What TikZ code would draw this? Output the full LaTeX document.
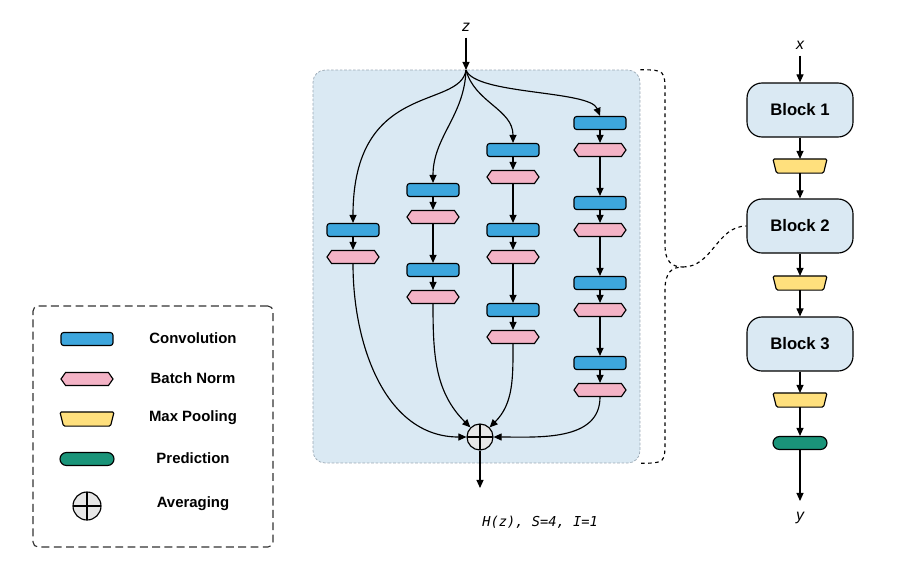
\documentclass[tikz,border=0pt]{standalone}
\usepackage{fontspec}
\setmainfont{Liberation Sans}
\setmonofont{DejaVu Sans Mono}
\usetikzlibrary{shapes.geometric, shapes.misc, shapes.symbols, arrows.meta, positioning}
\definecolor{convblue}{HTML}{3DA6DD}
\definecolor{normpink}{HTML}{F4B3C6}
\definecolor{poolyellow}{HTML}{FFE07D}
\definecolor{predgreen}{HTML}{1A9479}
\definecolor{cellblue}{HTML}{DAE9F3}
\definecolor{avggray}{HTML}{E6E6E6}
\definecolor{edgegray}{HTML}{9AA8B4}
\definecolor{legendgray}{HTML}{333333}

\begin{document}
\begin{tikzpicture}[x=0.02cm, y=-0.02cm, line width=0.65pt,
  flow/.style={-{Triangle[length=4.6pt,width=4pt]}},
  conv/.style={draw, fill=convblue, rounded corners=1.5pt, minimum width=1.04cm, minimum height=0.26cm, inner sep=0pt},
  bnorm/.style={draw, fill=normpink, signal, signal to=west and east, signal pointer angle=110, minimum width=1.04cm, minimum height=0.26cm, inner sep=0pt},
  pool/.style={minimum width=1.06cm, minimum height=0.26cm, inner sep=0pt,
    append after command={\pgfextra{\let\poolnode\tikzlastnode
      \draw[fill=poolyellow, rounded corners=0.8pt] (\poolnode.north west) -- (\poolnode.north east)
        -- ([xshift=-0.07cm]\poolnode.south east) -- ([xshift=0.07cm]\poolnode.south west) -- cycle;}}},
  pred/.style={draw, fill=predgreen, rounded rectangle, minimum width=1.08cm, minimum height=0.26cm, inner sep=0pt},
  avg/.style={draw, fill=avggray, circle, minimum size=#1, inner sep=0pt,
    path picture={\draw (path picture bounding box.north) -- (path picture bounding box.south)
      (path picture bounding box.west) -- (path picture bounding box.east);}},
  block/.style={draw, fill=cellblue, rounded corners=0.3cm, minimum width=2.12cm, minimum height=1.08cm, font=\bfseries\fontsize{9.5}{11}\selectfont},
  legendtext/.style={font=\bfseries\fontsize{8.5}{10}\selectfont},
  varlabel/.style={font=\itshape\fontsize{9}{10}\selectfont},
  brace/.style={dash pattern=on 2pt off 2pt}]

  % Canvas
  \useasboundingbox (0,0) rectangle (915,572);

  % Cell background
  \node[draw=edgegray, line width=0.4pt, dash pattern=on 1.5pt off 1pt, fill=cellblue, rounded corners=0.24cm,
    minimum width=6.54cm, minimum height=7.86cm] (hz) at (476.5,266.5) {};

  % Input and split point
  \node[varlabel] (z) at (466,27) {z};
  \coordinate (split) at (466,70);
  \draw[flow] (z) -- (split);

  % Path 1
  \node[conv] (c11) at (353,230) {};
  \node[bnorm] (b11) at (353,257) {};

  % Path 2
  \node[conv] (c21) at (433,190) {};
  \node[bnorm] (b21) at (433,217) {};
  \node[conv] (c22) at (433,270) {};
  \node[bnorm] (b22) at (433,297) {};

  % Path 3
  \node[conv] (c31) at (513,150) {};
  \node[bnorm] (b31) at (513,177) {};
  \node[conv] (c32) at (513,230) {};
  \node[bnorm] (b32) at (513,257) {};
  \node[conv] (c33) at (513,310) {};
  \node[bnorm] (b33) at (513,337) {};

  % Path 4
  \node[conv] (c41) at (600,123) {};
  \node[bnorm] (b41) at (600,150) {};
  \node[conv] (c42) at (600,203) {};
  \node[bnorm] (b42) at (600,230) {};
  \node[conv] (c43) at (600,283) {};
  \node[bnorm] (b43) at (600,310) {};
  \node[conv] (c44) at (600,363) {};
  \node[bnorm] (b44) at (600,390) {};

  % Averaging
  \node[avg=0.52cm] (sum) at (480,437) {};
  \coordinate (hout) at (480,488);

  % Split to paths
  \draw[flow] (split) .. controls (460,110) and (353,80) .. (c11.north);
  \draw[flow] (split) to[out=-92, in=90] (c21.north);
  \draw[flow] (split) to[out=-75, in=90] (c31.north);
  \draw[flow] (split) .. controls (475,95) and (590,90) .. (c41.north);

  % Inside paths
  \draw[flow] (c11) -- (b11);
  \draw[flow] (c21) -- (b21);
  \draw[flow] (b21) -- (c22);
  \draw[flow] (c22) -- (b22);
  \draw[flow] (c31) -- (b31);
  \draw[flow] (b31) -- (c32);
  \draw[flow] (c32) -- (b32);
  \draw[flow] (b32) -- (c33);
  \draw[flow] (c33) -- (b33);
  \draw[flow] (c41) -- (b41);
  \draw[flow] (b41) -- (c42);
  \draw[flow] (c42) -- (b42);
  \draw[flow] (b42) -- (c43);
  \draw[flow] (c43) -- (b43);
  \draw[flow] (b43) -- (c44);
  \draw[flow] (c44) -- (b44);

  % Paths to averaging
  \draw[flow] (b11.south) to[out=-90, in=180] (sum.west);
  \draw[flow] (b22.south) to[out=-90, in=135] (sum.north west);
  \draw[flow] (b33.south) to[out=-90, in=45] (sum.north east);
  \draw[flow] (b44.south) to[out=-90, in=0] (sum.east);
  \draw[flow] (sum) -- (hout);

  \node[font=\ttfamily\itshape\fontsize{7.8}{9}\selectfont] (cap) at (540,522) {H(z), S=4, I=1};

  % Network
  \node[varlabel] (x) at (800,45) {x};
  \node[block] (blk1) at (800,110) {Block 1};
  \node[pool] (p1) at (800,166) {};
  \node[block] (blk2) at (800,226) {Block 2};
  \node[pool] (p2) at (800,283) {};
  \node[block] (blk3) at (800,344) {Block 3};
  \node[pool] (p3) at (800,400) {};
  \node[pred] (pr) at (800,443) {};
  \coordinate (yout) at (800,501);
  \node[varlabel] (y) at (800,518) {y};

  \draw[flow] (x) -- (blk1);
  \draw[flow] (blk1) -- (p1);
  \draw[flow] (p1) -- (blk2);
  \draw[flow] (blk2) -- (p2);
  \draw[flow] (p2) -- (blk3);
  \draw[flow] (blk3) -- (p3);
  \draw[flow] (p3) -- (pr);
  \draw[flow] (pr) -- (yout);

  % Brace from cell to Block 2
  \draw[brace] (hz.north east) .. controls (665,70) .. (665,95) -- (665,245)
    .. controls (665,262) and (672,267) .. (683,267) coordinate (tip)
    .. controls (672,267) and (665,272) .. (665,290) -- (665,440)
    .. controls (665,463) .. (hz.south east);
  \draw[brace] (tip) to[out=0, in=180] (blk2.west);

  % Legend
  \node[draw=legendgray, dash pattern=on 4.5pt off 2.5pt, rounded corners=0.1cm,
    minimum width=4.8cm, minimum height=4.82cm] (legend) at (153,426.5) {};
  \node[conv] (lconv) at (87,339) {};
  \node[bnorm] (lnorm) at (87,379) {};
  \node[pool] (lpool) at (87,419) {};
  \node[pred] (lpred) at (87,459) {};
  \node[avg=0.56cm] (lavg) at (87,506) {};
  \node[legendtext] (tconv) at (193,338) {Convolution};
  \node[legendtext] (tnorm) at (193,378) {Batch Norm};
  \node[legendtext] (tpool) at (193,418) {Max Pooling};
  \node[legendtext] (tpred) at (193,458) {Prediction};
  \node[legendtext] (tavg) at (193,504) {Averaging};
\end{tikzpicture}
\end{document}
